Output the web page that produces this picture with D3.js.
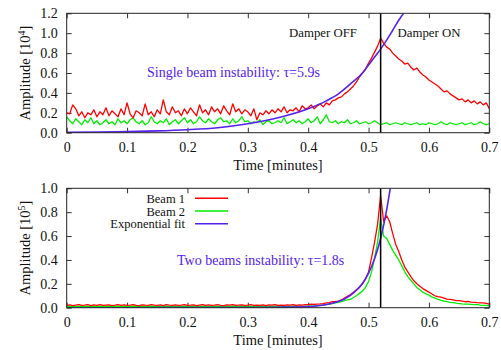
<!DOCTYPE html>
<html>
<head>
<meta charset="utf-8">
<script src="https://cdn.jsdelivr.net/npm/d3@7"></script>
<style>
  body { margin: 0; background: #fff; }
  text { font-family: "Liberation Serif", "DejaVu Serif", serif; }
</style>
</head>
<body>
<svg id="chart" width="501" height="350"></svg>
<script>
const width = 501
const height = 350

// sampling grid, minutes
const step = 0.005
const time = d3.range(0, 0.7 + step / 2, step)

// top panel: single beam, amplitude [10^4]
const beam1Single = [
  0.20, 0.19, 0.28, 0.24, 0.17, 0.21, 0.15, 0.20, 0.18, 0.23,
  0.16, 0.21, 0.18, 0.25, 0.17, 0.22, 0.19, 0.16, 0.24, 0.18,
  0.30, 0.19, 0.15, 0.22, 0.20, 0.17, 0.29, 0.18, 0.21, 0.16,
  0.23, 0.19, 0.33, 0.21, 0.18, 0.26, 0.20, 0.22, 0.17, 0.24,
  0.19, 0.25, 0.21, 0.17, 0.28, 0.20, 0.23, 0.18, 0.26, 0.21,
  0.24, 0.19, 0.27, 0.22, 0.18, 0.29, 0.21, 0.24, 0.19, 0.23,
  0.21, 0.17, 0.24, 0.13, 0.20, 0.18, 0.22, 0.19, 0.23, 0.20,
  0.24, 0.21, 0.26, 0.20, 0.23, 0.22, 0.25, 0.21, 0.27, 0.24,
  0.25, 0.28, 0.24, 0.27, 0.29, 0.26, 0.30, 0.28, 0.32, 0.33,
  0.35, 0.36, 0.39, 0.41, 0.44, 0.47, 0.51, 0.56, 0.60, 0.64,
  0.70, 0.75, 0.81, 0.87, 0.95, 0.90, 0.86, 0.84, 0.80, 0.77,
  0.74, 0.72, 0.69, 0.70, 0.66, 0.63, 0.65, 0.61, 0.58, 0.56,
  0.53, 0.51, 0.49, 0.47, 0.44, 0.41, 0.42, 0.39, 0.37, 0.35,
  0.33, 0.34, 0.31, 0.33, 0.30, 0.32, 0.29, 0.31, 0.28, 0.30,
  0.24
]
const beam2Single = [
  0.16, 0.12, 0.09, 0.14, 0.11, 0.08, 0.13, 0.10, 0.15, 0.09,
  0.12, 0.08, 0.10, 0.13, 0.09, 0.11, 0.08, 0.14, 0.10, 0.12,
  0.09, 0.13, 0.15, 0.11, 0.09, 0.12, 0.08, 0.10, 0.16, 0.11,
  0.09, 0.12, 0.10, 0.14, 0.08, 0.11, 0.13, 0.09, 0.12, 0.15,
  0.10, 0.13, 0.09, 0.11, 0.16, 0.12, 0.10, 0.14, 0.11, 0.09,
  0.13, 0.15, 0.11, 0.12, 0.09, 0.14, 0.10, 0.12, 0.16, 0.11,
  0.12, 0.09, 0.11, 0.10, 0.13, 0.08, 0.11, 0.12, 0.09, 0.10,
  0.12, 0.10, 0.15, 0.09, 0.11, 0.13, 0.10, 0.12, 0.09, 0.11,
  0.14, 0.10, 0.12, 0.16, 0.09, 0.13, 0.18, 0.11, 0.10, 0.12,
  0.09, 0.11, 0.10, 0.13, 0.09, 0.10, 0.12, 0.09, 0.10, 0.11,
  0.09, 0.10, 0.12, 0.10, 0.08, 0.09, 0.10, 0.08, 0.09, 0.10,
  0.09, 0.08, 0.10, 0.09, 0.08, 0.09, 0.10, 0.08, 0.09, 0.08,
  0.10, 0.09, 0.08, 0.09, 0.11, 0.09, 0.08, 0.10, 0.09, 0.08,
  0.09, 0.10, 0.08, 0.09, 0.10, 0.08, 0.09, 0.11, 0.09, 0.08,
  0.09
]
const fitSingleT = [0, 0.05, 0.1, 0.15, 0.2, 0.25, 0.3, 0.35, 0.4, 0.43, 0.45, 0.47, 0.49, 0.5, 0.51, 0.52, 0.53, 0.54, 0.55, 0.558]
const fitSingleV = [0.004, 0.007, 0.011, 0.018, 0.03, 0.05, 0.09, 0.15, 0.24, 0.32, 0.39, 0.49, 0.60, 0.68, 0.76, 0.84, 0.93, 1.03, 1.13, 1.2]

// bottom panel: two beams, amplitude [10^5]
const beam1Two = [
  0.020, 0.024, 0.018, 0.022, 0.026, 0.019, 0.021, 0.025, 0.018, 0.023,
  0.020, 0.026, 0.019, 0.022, 0.024, 0.018, 0.021, 0.025, 0.020, 0.023,
  0.019, 0.022, 0.026, 0.020, 0.018, 0.024, 0.021, 0.019, 0.025, 0.022,
  0.020, 0.023, 0.018, 0.026, 0.021, 0.019, 0.024, 0.020, 0.022, 0.025,
  0.019, 0.021, 0.024, 0.018, 0.022, 0.026, 0.020, 0.023, 0.019, 0.021,
  0.025, 0.020, 0.018, 0.023, 0.021, 0.026, 0.019, 0.022, 0.024, 0.020,
  0.021, 0.025, 0.019, 0.022, 0.020, 0.024, 0.018, 0.023, 0.021, 0.026,
  0.020, 0.022, 0.019, 0.024, 0.021, 0.025, 0.020, 0.023, 0.022, 0.026,
  0.025, 0.030, 0.028, 0.030, 0.032, 0.035, 0.040, 0.042, 0.050, 0.052,
  0.055, 0.065, 0.080, 0.095, 0.110, 0.130, 0.150, 0.170, 0.200, 0.240,
  0.300, 0.420, 0.550, 0.700, 0.940, 0.720, 0.770, 0.720, 0.620, 0.530,
  0.470, 0.400, 0.340, 0.300, 0.260, 0.225, 0.200, 0.180, 0.160, 0.145,
  0.130, 0.115, 0.100, 0.092, 0.088, 0.080, 0.072, 0.070, 0.065, 0.060,
  0.060, 0.055, 0.050, 0.052, 0.046, 0.045, 0.042, 0.040, 0.041, 0.036,
  0.030
]
const beam2Two = [
  0.010, 0.012, 0.009, 0.011, 0.013, 0.010, 0.011, 0.012, 0.009, 0.011,
  0.010, 0.013, 0.010, 0.011, 0.012, 0.009, 0.010, 0.012, 0.011, 0.010,
  0.009, 0.011, 0.013, 0.010, 0.009, 0.012, 0.011, 0.010, 0.012, 0.011,
  0.010, 0.011, 0.009, 0.013, 0.010, 0.009, 0.012, 0.010, 0.011, 0.012,
  0.009, 0.010, 0.012, 0.009, 0.011, 0.013, 0.010, 0.011, 0.009, 0.010,
  0.012, 0.010, 0.009, 0.011, 0.010, 0.013, 0.009, 0.011, 0.012, 0.010,
  0.010, 0.012, 0.009, 0.011, 0.010, 0.012, 0.009, 0.011, 0.010, 0.012,
  0.010, 0.011, 0.009, 0.012, 0.010, 0.012, 0.010, 0.011, 0.011, 0.012,
  0.012, 0.014, 0.015, 0.017, 0.020, 0.022, 0.025, 0.030, 0.035, 0.040,
  0.045, 0.050, 0.060, 0.065, 0.070, 0.085, 0.100, 0.120, 0.140, 0.170,
  0.220, 0.300, 0.420, 0.550, 0.750, 0.600, 0.580, 0.530, 0.480, 0.440,
  0.400, 0.350, 0.300, 0.260, 0.230, 0.200, 0.170, 0.150, 0.130, 0.115,
  0.105, 0.090, 0.080, 0.070, 0.062, 0.055, 0.050, 0.045, 0.042, 0.038,
  0.035, 0.032, 0.030, 0.030, 0.027, 0.025, 0.025, 0.022, 0.020, 0.020,
  0.016
]
const fitTwoT = [0, 0.1, 0.2, 0.3, 0.35, 0.4, 0.42, 0.44, 0.45, 0.46, 0.47, 0.48, 0.49, 0.5, 0.51, 0.52, 0.53, 0.536]
const fitTwoV = [0, 0, 0.001, 0.002, 0.004, 0.009, 0.018, 0.037, 0.052, 0.073, 0.103, 0.146, 0.205, 0.29, 0.41, 0.58, 0.82, 1.0]

const xTicks = [0, 0.1, 0.2, 0.3, 0.4, 0.5, 0.6, 0.7]
const xTickLabels = ['0', '0.1', '0.2', '0.3', '0.4', '0.5', '0.6', '0.7']
const yTicksTop = [0, 0.2, 0.4, 0.6, 0.8, 1.0, 1.2]
const yTicksBottom = [0, 0.2, 0.4, 0.6, 0.8, 1.0]
const damperTime = 0.52
const legendLabels = ['Beam 1', 'Beam 2', 'Exponential fit']

const red = '#ff0000'
const green = '#00ee00'
const blue = '#5522ee'

const svg = d3.select('#chart')
const x0 = 66.7
const x1 = 489.3
const x = d3.scaleLinear().domain([0, 0.7]).range([x0, x1])

function panel(top, bottom, yMax, yTicks, exponent) {
  const y = d3.scaleLinear().domain([0, yMax]).range([bottom, top])
  const g = svg.append('g')
  const tick = 5

  g.append('defs').append('clipPath').attr('id', 'clip' + exponent)
    .append('rect').attr('x', x0).attr('y', top).attr('width', x1 - x0).attr('height', bottom - top)

  // ticks, mirrored and pointing inward
  const bottomAxis = g.append('g').attr('transform', `translate(0,${bottom})`)
    .call(d3.axisBottom(x).tickValues(xTicks).tickSizeInner(-tick).tickSizeOuter(0)
      .tickPadding(9).tickFormat((d, i) => xTickLabels[i]))
  const topAxis = g.append('g').attr('transform', `translate(0,${top})`)
    .call(d3.axisTop(x).tickValues(xTicks).tickSizeInner(-tick).tickSizeOuter(0).tickFormat(''))
  const leftAxis = g.append('g').attr('transform', `translate(${x0},0)`)
    .call(d3.axisLeft(y).tickValues(yTicks).tickSizeInner(-tick).tickSizeOuter(0)
      .tickPadding(9).tickFormat(d3.format('.1f')))
  const rightAxis = g.append('g').attr('transform', `translate(${x1},0)`)
    .call(d3.axisRight(y).tickValues(yTicks).tickSizeInner(-tick).tickSizeOuter(0).tickFormat(''))
  ;[bottomAxis, topAxis, leftAxis, rightAxis].forEach(a => {
    a.select('.domain').remove()
    a.selectAll('line').attr('stroke', '#333')
    a.selectAll('text').attr('font-family', 'Liberation Serif').attr('font-size', 14).attr('fill', '#111')
  })

  g.append('text')
    .attr('x', (x0 + x1) / 2).attr('y', bottom + 37)
    .attr('text-anchor', 'middle').attr('font-size', 14.5).attr('fill', '#111')
    .text('Time [minutes]')

  const yl = g.append('text')
    .attr('transform', `translate(30,${(top + bottom) / 2}) rotate(-90)`)
    .attr('text-anchor', 'middle').attr('font-size', 14.5).attr('fill', '#111')
  yl.append('tspan').text('Amplitude [10')
  yl.append('tspan').attr('dy', -5).attr('font-size', 10).text(exponent)
  yl.append('tspan').attr('dy', 5).text(']')

  return { g, y, top, bottom, clip: 'url(#clip' + exponent + ')' }
}

function series(p, xs, ys, color, w) {
  const line = d3.line().x((d, i) => x(xs[i])).y(d => p.y(d))
  p.g.append('path').datum(ys)
    .attr('clip-path', p.clip)
    .attr('fill', 'none').attr('stroke', color).attr('stroke-width', w)
    .attr('stroke-linejoin', 'round')
    .attr('d', line)
}

function fit(p, ts, vs) {
  const line = d3.line().x((d, i) => x(ts[i])).y(d => p.y(d)).curve(d3.curveMonotoneX)
  p.g.append('path').datum(vs)
    .attr('clip-path', p.clip)
    .attr('fill', 'none').attr('stroke', blue).attr('stroke-width', 1.6)
    .attr('d', line)
}

function frame(p) {
  p.g.append('line').attr('x1', x(damperTime)).attr('x2', x(damperTime))
    .attr('y1', p.top).attr('y2', p.bottom).attr('stroke', '#000').attr('stroke-width', 1.5)
  p.g.append('rect').attr('x', x0).attr('y', p.top)
    .attr('width', x1 - x0).attr('height', p.bottom - p.top)
    .attr('fill', 'none').attr('stroke', '#222').attr('stroke-width', 1)
}

// top panel
const p1 = panel(13.3, 132.7, 1.2, yTicksTop, '4')
series(p1, time, beam2Single, green, 1.3)
series(p1, time, beam1Single, red, 1.3)
fit(p1, fitSingleT, fitSingleV)
frame(p1)
p1.g.append('text').attr('x', 323).attr('y', 37).attr('text-anchor', 'middle')
  .attr('font-size', 12.8).attr('fill', '#111').text('Damper OFF')
p1.g.append('text').attr('x', 429).attr('y', 37).attr('text-anchor', 'middle')
  .attr('font-size', 12.8).attr('fill', '#111').text('Damper ON')
p1.g.append('text').attr('x', 147).attr('y', 77)
  .attr('font-size', 14).attr('fill', blue).text('Single beam instability: τ=5.9s')

// bottom panel
const p2 = panel(188.3, 307.7, 1.0, yTicksBottom, '5')
series(p2, time, beam2Two, green, 1.3)
series(p2, time, beam1Two, red, 1.3)
fit(p2, fitTwoT, fitTwoV)
frame(p2)
p2.g.append('text').attr('x', 177).attr('y', 264.5)
  .attr('font-size', 14).attr('fill', blue).text('Two beams instability: τ=1.8s')

// legend
const legendColors = [red, green, blue]
const lg = p2.g.append('g')
legendLabels.forEach((label, i) => {
  const ly = 198.3 + i * 12.7
  lg.append('text').attr('x', 185).attr('y', ly + 4.5).attr('text-anchor', 'end')
    .attr('font-size', 12.5).attr('fill', '#111').text(label)
  lg.append('line').attr('x1', 195).attr('x2', 228).attr('y1', ly).attr('y2', ly)
    .attr('stroke', legendColors[i]).attr('stroke-width', 1.5)
})
</script>
</body>
</html>
